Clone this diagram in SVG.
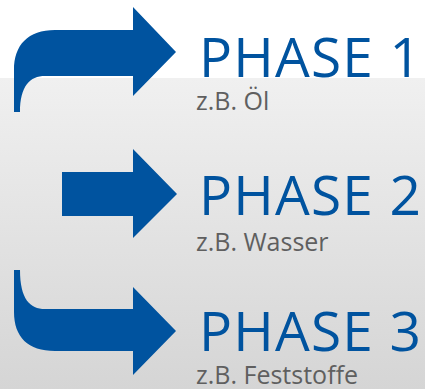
<svg xmlns="http://www.w3.org/2000/svg" width="425" height="389" viewBox="0 0 425 389">
<defs>
<linearGradient id="bg" x1="0" y1="0" x2="0" y2="1">
<stop offset="0" stop-color="#f0f0f0"/>
<stop offset="1" stop-color="#d5d5d5"/>
</linearGradient>
<style>
.arrow{fill:#00539f;}
.title{font-family:"Open Sans","Noto Sans",sans-serif;font-size:55px;letter-spacing:1.2px;fill:#00539f;}
.sub{font-family:"Open Sans","Noto Sans",sans-serif;font-size:25px;fill:#5f5f5f;}
</style>
</defs>
<rect x="0" y="0" width="425" height="389" fill="#ffffff"/>
<rect x="0" y="78" width="425" height="311" fill="url(#bg)"/>
<g id="connectors">
<path id="arrow1" class="arrow" d="M14,112 L14,70 C14,45 28,30 55,30 L133,30 L133,7 L176,52 L133,96 L133,76 L45,76 C30,76 20,86 20,112 Z"/>
<path id="arrow2" class="arrow" d="M62,172 L133,172 L133,149 L177,194 L133,238 L133,216 L62,216 Z"/>
<path id="arrow3" class="arrow" d="M14,270 L14,312 C14,337 28,351 55,351 L133,351 L133,375 L176,331 L133,287 L133,309 L45,309 C30,309 20,299 20,270 Z"/>
</g>
<g id="phase1">
<text class="title" x="199" y="77">PHASE 1</text>
<text class="sub" x="196" y="110">z.B. Öl</text>
</g>
<g id="phase2">
<text class="title" x="199" y="215">PHASE 2</text>
<text class="sub" x="196" y="251">z.B. Wasser</text>
</g>
<g id="phase3">
<text class="title" x="199" y="351">PHASE 3</text>
<text class="sub" x="196" y="384">z.B. Feststoffe</text>
</g>
</svg>
